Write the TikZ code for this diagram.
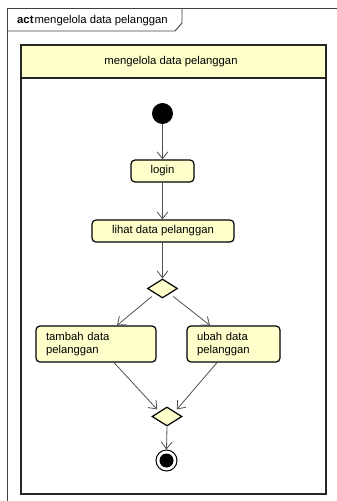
\documentclass[tikz,border=0pt]{standalone}
\usepackage{fontspec}
\setmainfont{Liberation Sans}
\usetikzlibrary{shapes.geometric,arrows.meta,calc}
\definecolor{actfill}{RGB}{255,255,204}
\definecolor{flowline}{RGB}{80,80,80}
\definecolor{framecol}{RGB}{64,64,64}
\tikzset{
  x=1pt,y=-1pt,
  every node/.style={font=\fontsize{11.3}{13}\selectfont},
  actbox/.style={draw=black,fill=actfill,line width=1.2pt,rounded corners=4pt,inner ysep=0pt,inner xsep=10pt,align=left},
  decision/.style={draw=black,fill=actfill,line width=1.2pt,diamond,minimum width=30pt,minimum height=19pt,inner sep=0pt},
  flow/.style={draw=flowline,line width=0.8pt,-{Straight Barb[length=7pt,width=11pt]}},
}
\begin{document}
\begin{tikzpicture}
\useasboundingbox (0,0) rectangle (337,501);
% frame
\draw[framecol,line width=0.9pt] (7.5,501) -- (7.5,8.5) -- (337,8.5);
\draw[framecol,line width=0.9pt] (7.5,31) -- (175,31) -- (182,23) -- (182,8.5);
\node[anchor=west,inner sep=0pt] (framelabel) at (17,20.5) {\textbf{act}\hspace{1pt}mengelola data pelanggan};
% partition
\fill[actfill] (21,45) rectangle (326,78);
\draw[black!85,line width=1.6pt] (21,45) rectangle (326,494);
\draw[black!85,line width=1.6pt] (21,78) -- (326,78);
\node (parttitle) at (171,62) {mengelola data pelanggan};
% nodes
\node[circle,fill=black,minimum size=21pt,inner sep=0pt] (start) at (162.5,113.5) {};
\node[actbox,minimum height=22pt,minimum width=63pt,align=center] (login) at (162.5,171) {login};
\node[actbox,minimum height=22pt,minimum width=142pt,align=center] (lihat) at (163,231) {lihat data pelanggan};
\node[decision] (d1) at (162.5,288.5) {};
\node[actbox,minimum height=36pt,text width=100pt] (tambah) at (96,344) {tambah data\\pelanggan};
\node[actbox,minimum height=36pt,text width=73pt] (ubah) at (233.5,344) {ubah data\\pelanggan};
\node[decision] (d2) at (167,416.5) {};
\node[circle,draw=black,line width=1pt,fill=white,minimum size=21pt,inner sep=0pt] (end) at (166.5,460.5) {};
\fill[black] (end.center) circle (7pt);
% flows
\draw[flow] (start.south) -- (login.north);
\draw[flow] (login.south) -- (lihat.north -| login.south);
\draw[flow] (lihat.south -| d1.north) -- (d1.north);
\draw[flow] ($(d1.south west)+(-3,3)$) -- ([xshift=21pt]tambah.north);
\draw[flow] ($(d1.south east)+(3,3)$) -- ([xshift=-23.5pt]ubah.north);
\draw[flow] ([xshift=18pt]tambah.south) -- ($(d2.north west)+(-2,-2)$);
\draw[flow] ([xshift=-16.5pt]ubah.south) -- ($(d2.north east)+(2,-2)$);
\draw[flow] (d2.south) -- (end.north);
\end{tikzpicture}
\end{document}
